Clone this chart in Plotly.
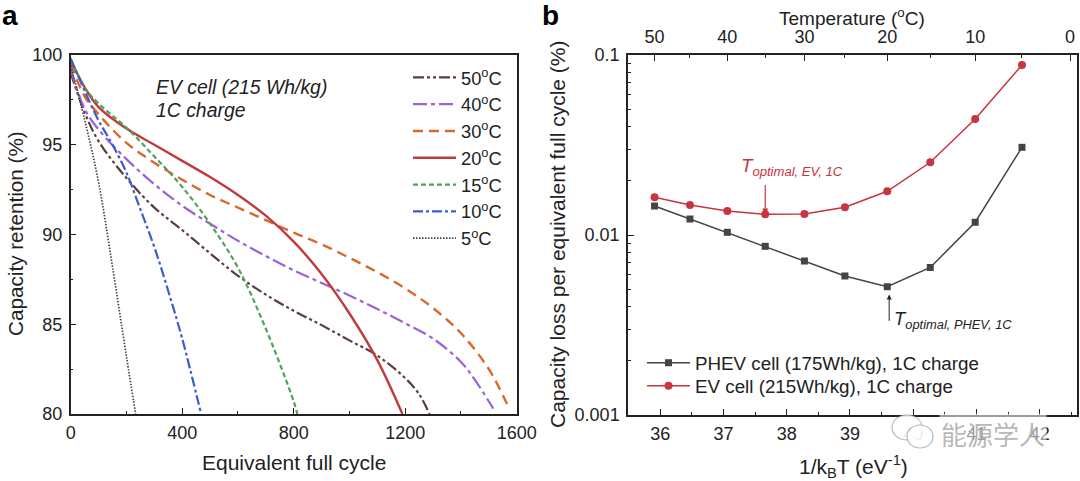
import plotly.graph_objects as go

W, H = 1080, 481
FONT = 'Liberation Sans'
INK = '#222222'

# panel a: capacity retention curves, cycle / retention pairs per temperature
cycles_50 = [0, 50, 100, 200, 300, 400, 500, 600, 700, 800, 900, 1000, 1100, 1200, 1250, 1287]
ret_50 = [99.0, 96.8, 95.2, 93.15, 91.5, 90.25, 88.95, 87.7, 86.65, 85.75, 84.95, 84.1, 83.25, 82.0, 81.1, 80.0]
cycles_40 = [0, 50, 100, 200, 300, 400, 500, 600, 700, 800, 900, 1000, 1100, 1200, 1300, 1400, 1450, 1516]
ret_40 = [99.2, 97.0, 95.85, 94.2, 92.8, 91.6, 90.6, 89.65, 88.8, 88.0, 87.3, 86.6, 85.85, 85.05, 84.2, 82.9, 81.9, 80.3]
cycles_30 = [0, 50, 100, 200, 300, 400, 500, 600, 700, 800, 900, 1000, 1100, 1200, 1300, 1400, 1500, 1570]
ret_30 = [99.5, 97.7, 96.7, 95.1, 94.0, 93.05, 92.2, 91.5, 90.8, 90.1, 89.45, 88.7, 87.9, 87.0, 85.9, 84.5, 82.5, 80.4]
cycles_20 = [0, 50, 100, 200, 300, 400, 500, 600, 700, 800, 900, 1000, 1100, 1190]
ret_20 = [99.7, 98.2, 97.1, 95.9, 95.0, 94.1, 93.2, 92.2, 91.05, 89.6, 87.8, 85.6, 83.0, 80.0]
cycles_15 = [0, 50, 100, 200, 300, 400, 500, 600, 700, 800, 813]
ret_15 = [99.8, 98.2, 97.3, 95.95, 94.35, 92.65, 90.6, 88.15, 84.75, 80.7, 80.0]
cycles_10 = [0, 50, 100, 150, 200, 250, 300, 350, 400, 468]
ret_10 = [99.8, 98.0, 96.35, 95.0, 93.45, 91.4, 89.3, 86.85, 84.2, 80.0]
cycles_5 = [0, 50, 100, 150, 200, 233]
ret_5 = [99.4, 96.4, 92.9, 88.2, 83.2, 80.0]

# panel b: capacity loss per cycle
inv_kt = [35.91, 36.47, 37.06, 37.66, 38.28, 38.92, 39.59, 40.27, 40.98, 41.72]
loss_phev = [0.01449, 0.01227, 0.01035, 0.00865, 0.00717, 0.00592, 0.00516, 0.0066, 0.01177, 0.0307]
loss_ev = [0.0162, 0.01468, 0.0136, 0.01303, 0.0131, 0.01425, 0.0175, 0.02535, 0.0441, 0.088]

# top axis of panel b
temp_labels = ['50', '40', '30', '20', '10', '0']
temp_major_pos = [35.91, 37.06, 38.28, 39.59, 40.98, 42.48]
temp_minor_pos = [36.47, 37.66, 38.92, 40.27, 41.72]

fig = go.Figure()

curves = [
    ('50<sup>o</sup>C', cycles_50, ret_50, '#5b3f3c', '11px,3px,3px,3px,3px,3px', 2.2),
    ('40<sup>o</sup>C', cycles_40, ret_40, '#9a62d8', '14px,4px,4px,4px', 2.2),
    ('30<sup>o</sup>C', cycles_30, ret_30, '#d8692c', '10px,6px', 2.4),
    ('20<sup>o</sup>C', cycles_20, ret_20, '#c13a3f', None, 2.4),
    ('15<sup>o</sup>C', cycles_15, ret_15, '#4fa35a', '5px,3px', 2.2),
    ('10<sup>o</sup>C', cycles_10, ret_10, '#3a5ccf', '10px,3px,3px,3px', 2.2),
    ('5<sup>o</sup>C', cycles_5, ret_5, '#444444', '1.5px,1.5px', 1.7),
]
for name, xs, ys, color, dash, width in curves:
    line = dict(color=color, width=width, shape='spline', smoothing=1)
    if dash:
        line['dash'] = dash
    fig.add_trace(go.Scatter(x=xs, y=ys, mode='lines', name=name, line=line,
                             xaxis='x', yaxis='y', legend='legend'))

fig.add_trace(go.Scatter(x=inv_kt, y=loss_phev, mode='lines+markers', name='PHEV cell (175Wh/kg), 1C charge',
                         line=dict(color='#444444', width=1.5),
                         marker=dict(symbol='square', size=7, color='#444444'),
                         xaxis='x2', yaxis='y2', legend='legend2'))
fig.add_trace(go.Scatter(x=inv_kt, y=loss_ev, mode='lines+markers', name='EV cell (215Wh/kg), 1C charge',
                         line=dict(color='#c8343f', width=1.5),
                         marker=dict(symbol='circle', size=8, color='#c8343f'),
                         xaxis='x3', yaxis='y2', legend='legend3'))


def px(x):
    return x / W


def py(y):
    return 1 - y / H


axis_style = dict(showline=True, linecolor=INK, linewidth=1.5, mirror=True, showgrid=False, zeroline=False,
                  automargin=False, ticks='inside', ticklen=6, tickwidth=1.2, tickcolor=INK,
                  tickfont=dict(size=18, color=INK))
minor_style = dict(ticks='inside', ticklen=3, tickwidth=1, tickcolor=INK)
legend_b = dict(xanchor='left', yanchor='top', bgcolor='rgba(0,0,0,0)', font=dict(size=18.8), itemwidth=43,
                itemclick=False)

fig.update_layout(
    width=W, height=H, margin=dict(l=0, r=0, t=0, b=0), autosize=False,
    paper_bgcolor='white', plot_bgcolor='white',
    font=dict(family=FONT, color=INK),
    xaxis=dict(domain=[px(70.7), px(516.7)], range=[0, 1600], anchor='y', tickmode='array',
               tickvals=[0, 400, 800, 1200, 1600], minor=dict(tickvals=[200, 600, 1000, 1400], **minor_style),
               ticklabelstandoff=2, **axis_style),
    yaxis=dict(domain=[py(414), py(55)], range=[80, 100], anchor='x', tickmode='array',
               tickvals=[80, 85, 90, 95, 100], minor=dict(tickvals=[82.5, 87.5, 92.5, 97.5], **minor_style),
               ticklabelstandoff=3, **axis_style),
    xaxis2=dict(domain=[px(628), px(1077)], range=[35.49, 42.59], anchor='y2', tickmode='array',
                tickvals=[36, 37, 38, 39, 40, 41, 42],
                minor=dict(tickvals=[35.5, 36.5, 37.5, 38.5, 39.5, 40.5, 41.5, 42.5], **minor_style),
                ticklabelstandoff=2, **{**axis_style, 'mirror': False}),
    xaxis3=dict(domain=[px(628), px(1077)], range=[35.49, 42.59], anchor='y2', overlaying='x2', side='top',
                tickmode='array', tickvals=temp_major_pos, ticktext=temp_labels,
                minor=dict(tickvals=temp_minor_pos, **minor_style),
                ticklabelstandoff=3, **{**axis_style, 'mirror': False}),
    yaxis2=dict(domain=[py(415), py(55)], type='log', range=[-3, -1], anchor='x2', tickmode='array',
                tickvals=[0.001, 0.01, 0.1], ticktext=['0.001', '0.01', '0.1'],
                minor=dict(tickvals=[m * d for d in (0.001, 0.01) for m in range(2, 10)], **minor_style),
                ticklabelstandoff=3, **axis_style),
    legend=dict(x=px(408), y=py(59), xanchor='left', yanchor='top', bgcolor='rgba(0,0,0,0)',
                font=dict(size=18.3), itemwidth=43, traceorder='normal', itemclick=False),
    legend2=dict(x=px(642), y=py(344), **legend_b),
    legend3=dict(x=px(642), y=py(367), **legend_b),
    showlegend=True,
)

paper = dict(xref='paper', yref='paper', showarrow=False, xanchor='center', yanchor='middle')
left = {**paper, 'xanchor': 'left'}
fig.add_annotation(x=px(0), y=py(15), text='<b>a</b>', font=dict(size=28, color='black'), **left)
fig.add_annotation(x=px(540), y=py(15), text='<b>b</b>', font=dict(size=28, color='black'), **left)

# axis titles
fig.add_annotation(x=px(294), y=py(462), text='Equivalent full cycle', font=dict(size=21), **paper)
fig.add_annotation(x=px(15), y=py(234), text='Capacity retention (%)', textangle=-90, font=dict(size=20.7), **paper)
fig.add_annotation(x=px(853), y=py(466), text='1/k<sub>B</sub>T (eV<sup>-1</sup>)', font=dict(size=21), **paper)
fig.add_annotation(x=px(557), y=py(234), text='Capacity loss per equivalent full cycle (%)', textangle=-90,
                   font=dict(size=21), **paper)
fig.add_annotation(x=px(852), y=py(17), text='Temperature (<sup>o</sup>C)', font=dict(size=19), **paper)

fig.add_annotation(x=px(154), y=py(87), text='<i>EV cell (215 Wh/kg)</i>', font=dict(size=19.4, color=INK), **left)
fig.add_annotation(x=px(154), y=py(110), text='<i>1C charge</i>', font=dict(size=19.4, color=INK), **left)

# arrows to the two minima
fig.add_annotation(x=37.66, y=-1.886, xref='x2', yref='y2', ax=0, ay=-31, text='', showarrow=True,
                   arrowcolor='#c8343f', arrowhead=2, arrowsize=1, arrowwidth=1.2)
fig.add_annotation(x=px(792), y=py(167), text='<i>T<sub>optimal, EV, 1C</sub></i>',
                   font=dict(size=18.7, color='#c8343f'), **paper)
fig.add_annotation(x=39.62, y=-2.33, xref='x2', yref='y2', ax=0, ay=28, text='', showarrow=True,
                   arrowcolor=INK, arrowhead=2, arrowsize=1, arrowwidth=1)
fig.add_annotation(x=px(953), y=py(320), text='<i>T<sub>optimal, PHEV, 1C</sub></i>',
                   font=dict(size=18.4, color=INK), **paper)

# watermark sits over the tick labels, the icon hides most of the 40
fig.add_annotation(x=px(993), y=py(433), text='能源学人',
                   font=dict(family='Noto Sans CJK SC', size=26, color='rgba(165,165,165,0.8)'),
                   bgcolor='rgba(255,255,255,0.55)', **paper)
for x0, y0, x1, y1 in [(892, 415, 922, 440), (907, 425, 933, 448)]:
    fig.add_shape(type='circle', xref='paper', yref='paper', x0=px(x0), x1=px(x1), y0=py(y1), y1=py(y0),
                  fillcolor='rgba(255,255,255,0.9)', layer='above',
                  line=dict(color='rgba(165,165,165,0.8)', width=1.2))

fig.write_html('out.html', config=dict(displayModeBar=False), post_script="document.body.style.margin='0';")
